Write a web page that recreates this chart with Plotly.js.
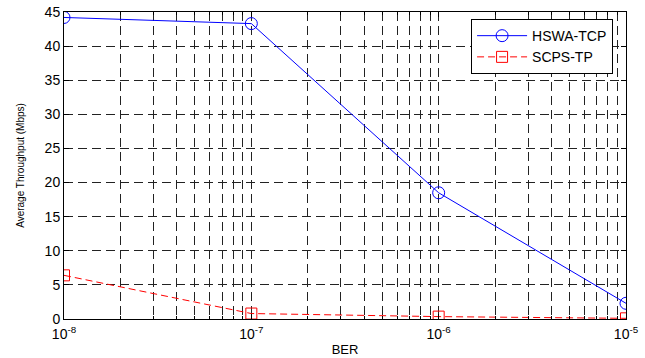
<!DOCTYPE html>
<html><head><meta charset="utf-8">
<script src="https://cdn.plot.ly/plotly-3.0.1.min.js"></script>
<style>html,body{margin:0;padding:0;background:#fff;}</style>
</head><body><div id="chart" style="width:645px;height:358px;"></div>
<script>
const berValues = [1e-8, 1e-7, 1e-6, 1e-5];
const hswaTcp = [44.2, 43.3, 18.5, 2.3];
const scpsTp = [6.4, 0.8, 0.35, 0.1];
const xTickVals = [1e-8, 1e-7, 1e-6, 1e-5];
const xTickText = ['10<sup>-8</sup>', '10<sup>-7</sup>', '10<sup>-6</sup>', '10<sup>-5</sup>'];
const yTickVals = [0, 5, 10, 15, 20, 25, 30, 35, 40, 45];

const font = 'Liberation Sans, Arial, sans-serif';
const traces = [
  {x: berValues, y: hswaTcp, name: 'HSWA-TCP', type: 'scatter', mode: 'lines+markers',
   line: {color: '#0000ff', width: 1},
   marker: {symbol: 'circle-open', size: 12, color: '#0000ff', line: {width: 1}}},
  {x: berValues, y: scpsTp, name: 'SCPS-TP', type: 'scatter', mode: 'lines+markers',
   line: {color: '#ff0000', width: 1, dash: '7px,4px'},
   marker: {symbol: 'square-open', size: 11, color: '#ff0000', line: {width: 1}}}
];
const layout = {
  width: 645, height: 358,
  margin: {l: 64, r: 19, t: 12, b: 39},
  paper_bgcolor: '#fff', plot_bgcolor: '#fff',
  font: {family: font, color: '#000'},
  showlegend: true,
  legend: {x: 0.977, y: 0.977, xanchor: 'right', yanchor: 'top',
    bordercolor: '#000', borderwidth: 1, bgcolor: '#fff', itemwidth: 50,
    font: {size: 14, family: font}, tracegroupgap: 0},
  xaxis: {type: 'log', range: [-8, -5], tickvals: xTickVals, ticktext: xTickText,
    ticks: 'inside', ticklen: 5, tickcolor: '#000', tickfont: {size: 14},
    ticklabelstandoff: 2,
    showline: true, linecolor: '#000', linewidth: 1, mirror: 'ticks',
    showgrid: true, gridcolor: '#222', griddash: '9px,5px', gridwidth: 1,
    minor: {showgrid: true, gridcolor: '#222', griddash: '9px,5px', gridwidth: 1,
            ticks: 'inside', ticklen: 3, tickcolor: '#000', dtick: 'D1'},
    zeroline: false,
    title: {text: 'BER', font: {size: 13}, standoff: 4}},
  yaxis: {range: [0, 45], tickvals: yTickVals,
    ticks: 'inside', ticklen: 5, tickcolor: '#000', tickfont: {size: 14},
    showline: true, linecolor: '#000', linewidth: 1, mirror: 'ticks',
    showgrid: true, gridcolor: '#222', griddash: '9px,5px', gridwidth: 1,
    zeroline: false,
    title: {text: 'Average Throughput (Mbps)', font: {size: 10}, standoff: 18}}
};
Plotly.newPlot('chart', traces, layout, {displayModeBar: false, staticPlot: true});
</script></body></html>
